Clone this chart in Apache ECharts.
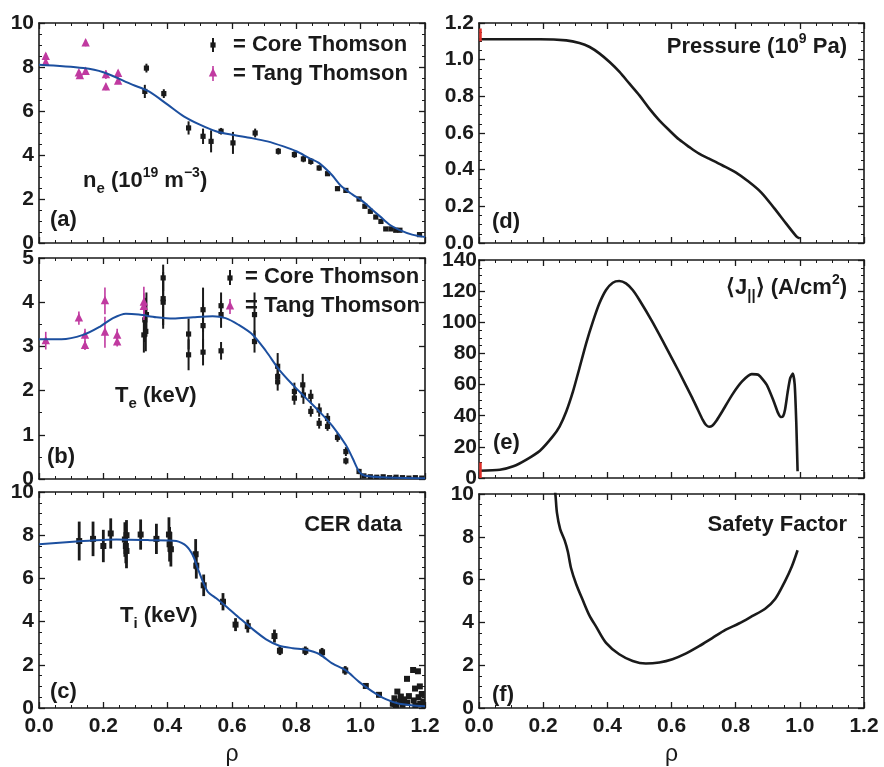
<!DOCTYPE html>
<html>
<head>
<meta charset="utf-8">
<script src="https://cdn.jsdelivr.net/npm/echarts@6/dist/echarts.min.js"></script>
<style>
html,body{margin:0;padding:0;background:#fff;}
#chart{width:884px;height:767px;}
</style>
</head>
<body>
<div id="chart"></div>
<script>
// ---------------- DATA ----------------
const xTicks = [0, 0.2, 0.4, 0.6, 0.8, 1.0, 1.2];

// (a) electron density
const neFit = [[0,8.1],[0.138,7.95],[0.2,7.76],[0.29,7.2],[0.34,6.9],[0.4,6.29],[0.45,5.76],[0.5,5.38],[0.55,5.08],[0.6,4.92],[0.66,4.77],[0.71,4.62],[0.76,4.39],[0.8,4.17],[0.84,3.86],[0.87,3.64],[0.91,3.1],[0.94,2.58],[0.975,2.2],[1.0,1.97],[1.03,1.59],[1.06,1.21],[1.09,0.83],[1.12,0.6],[1.16,0.38],[1.2,0.27]];
const neCore = [[0.329,6.89,0.3],[0.334,7.95,0.2],[0.388,6.79,0.2],[0.465,5.23,0.3],[0.51,4.85,0.35],[0.535,4.62,0.5],[0.566,5.08,0.15],[0.603,4.55,0.5],[0.672,5.0,0.2],[0.744,4.17,0.15],[0.794,4.02,0.15],[0.822,3.82,0.15],[0.845,3.71,0.15],[0.871,3.41,0.12],[0.897,3.15,0.1],[0.928,2.47,0.1],[0.954,2.39,0.1],[0.995,2.0,0.1],[1.013,1.67,0.1],[1.03,1.44,0.1],[1.047,1.18,0.08],[1.063,0.98,0.08],[1.078,0.64,0.06],[1.094,0.64,0.06],[1.109,0.58,0.05],[1.122,0.58,0.05],[1.183,0.38,0.1]];
const neTang = [[0.021,8.48,0.15],[0.021,8.21,0.15],[0.124,7.73,0.1],[0.127,7.6,0.1],[0.145,9.09,0.15],[0.145,7.8,0.1],[0.208,7.65,0.2],[0.208,7.09,0.15],[0.246,7.7,0.15],[0.246,7.35,0.1]];

// (b) electron temperature
const teFit = [[0,3.16],[0.07,3.16],[0.137,3.26],[0.19,3.45],[0.23,3.64],[0.27,3.74],[0.31,3.72],[0.365,3.66],[0.417,3.63],[0.48,3.66],[0.54,3.68],[0.58,3.64],[0.62,3.49],[0.665,3.26],[0.706,2.89],[0.747,2.47],[0.789,2.13],[0.83,1.83],[0.871,1.53],[0.913,1.19],[0.954,0.77],[0.975,0.47],[0.995,0.17],[1.011,0.08],[1.07,0.04],[1.2,0.015]];
const teCore = [[0.326,3.26,0.4],[0.329,3.6,0.5],[0.332,3.34,0.45],[0.334,3.72,0.5],[0.386,4.55,0.3],[0.386,4.0,0.6],[0.386,4.08,0.6],[0.465,3.28,0.35],[0.465,2.81,0.35],[0.51,3.83,0.5],[0.51,3.47,0.5],[0.51,2.87,0.3],[0.566,3.92,0.3],[0.566,3.72,0.3],[0.566,2.9,0.2],[0.67,3.72,0.5],[0.67,3.11,0.25],[0.742,2.55,0.3],[0.742,2.32,0.2],[0.742,2.2,0.2],[0.794,1.98,0.2],[0.794,1.83,0.15],[0.82,2.13,0.25],[0.822,1.9,0.2],[0.845,1.87,0.15],[0.845,1.53,0.12],[0.871,1.56,0.15],[0.871,1.26,0.12],[0.897,1.37,0.12],[0.897,1.19,0.1],[0.928,0.94,0.1],[0.954,0.62,0.1],[0.954,0.41,0.08],[0.995,0.17,0.06],[1.01,0.07,0.02],[1.03,0.05,0.02],[1.05,0.04,0.02],[1.07,0.05,0.02],[1.09,0.03,0.02],[1.11,0.04,0.02],[1.13,0.03,0.02],[1.15,0.02,0.02],[1.17,0.03,0.02],[1.19,0.02,0.02]];
const teTang = [[0.021,3.13,0.2],[0.124,3.64,0.15],[0.143,3.25,0.15],[0.143,3.02,0.1],[0.205,4.03,0.3],[0.205,3.32,0.35],[0.243,3.25,0.15],[0.243,3.1,0.1],[0.326,4.0,0.35],[0.326,3.9,0.3]];

// (c) ion temperature
const tiFit = [[0,7.58],[0.137,7.73],[0.24,7.8],[0.344,7.77],[0.427,7.73],[0.458,7.5],[0.479,7.05],[0.494,6.44],[0.51,5.83],[0.525,5.38],[0.551,5.08],[0.582,4.7],[0.623,4.17],[0.665,3.64],[0.706,3.18],[0.747,2.88],[0.789,2.77],[0.83,2.7],[0.871,2.5],[0.913,2.05],[0.954,1.74],[0.995,1.21],[1.037,0.76],[1.078,0.41],[1.12,0.2],[1.2,0.08]];
const tiCER = [[0.125,7.73,0.9],[0.168,7.83,0.8],[0.2,7.5,0.75],[0.223,8.08,0.7],[0.267,7.8,0.8],[0.27,7.5,0.8],[0.272,7.27,0.8],[0.272,8.0,0.7],[0.316,8.03,0.7],[0.365,7.83,0.7],[0.404,8.03,0.8],[0.406,7.58,0.8],[0.41,7.35,0.8],[0.487,7.12,0.7],[0.489,6.59,0.6],[0.512,5.68,0.5],[0.572,4.92,0.4],[0.611,3.86,0.3],[0.649,3.79,0.3],[0.732,3.33,0.3],[0.749,2.65,0.2],[0.828,2.65,0.2],[0.88,2.58,0.2],[0.952,1.74,0.2],[1.016,1.02,0.1],[1.057,0.61,0.1],[1.1,0.2,0.15],[1.105,0.45,0.1],[1.11,0.1,0.1],[1.114,0.76,0.08],[1.12,0.3,0.1],[1.125,0.53,0.08],[1.13,0.15,0.1],[1.135,0.4,0.1],[1.144,1.35,0.08],[1.145,0.25,0.1],[1.15,0.55,0.1],[1.163,1.76,0.06],[1.169,0.9,0.08],[1.165,0.35,0.1],[1.17,0.1,0.1],[1.178,1.7,0.06],[1.18,0.5,0.1],[1.184,1.0,0.08],[1.185,0.2,0.1],[1.19,0.65,0.1],[1.195,0.3,0.1],[1.198,0.05,0.05]];

// (d) pressure
const pressure = [[0,1.111],[0.19,1.111],[0.272,1.105],[0.313,1.091],[0.345,1.069],[0.376,1.033],[0.407,0.987],[0.438,0.933],[0.469,0.869],[0.5,0.805],[0.531,0.733],[0.562,0.669],[0.593,0.615],[0.624,0.564],[0.655,0.524],[0.686,0.487],[0.717,0.46],[0.758,0.424],[0.8,0.385],[0.84,0.335],[0.88,0.275],[0.92,0.19],[0.96,0.1],[0.99,0.035],[1.0,0.025]];
const pressureErr = [[0,1.135,0.035]];

// (e) parallel current density
const current = [[0,4.7],[0.065,5.3],[0.107,7.5],[0.148,11.8],[0.19,17.5],[0.23,26.7],[0.251,33],[0.272,42.7],[0.293,55.6],[0.313,70.5],[0.334,86.5],[0.355,100.4],[0.375,112],[0.396,120.7],[0.417,125.4],[0.437,126.5],[0.458,125],[0.479,120.7],[0.5,114.3],[0.54,100.4],[0.582,84.4],[0.623,68.4],[0.665,51.3],[0.683,43.5],[0.697,37.5],[0.707,34.2],[0.717,32.9],[0.727,33.6],[0.74,36.8],[0.758,42.7],[0.789,53.4],[0.82,62],[0.85,66.7],[0.871,66.2],[0.897,59.8],[0.92,48.5],[0.932,41.8],[0.941,39.2],[0.948,39.8],[0.954,44],[0.962,55],[0.97,64.1],[0.978,67],[0.984,60],[0.989,35],[0.993,4.3]];
const currentErr = [[0,5,5]];

// (f) safety factor
const safety = [[0.232,10.6],[0.238,10],[0.243,9.12],[0.253,8.36],[0.267,7.83],[0.277,7.3],[0.287,6.53],[0.303,5.78],[0.324,5.02],[0.344,4.33],[0.365,3.8],[0.396,3.04],[0.437,2.51],[0.479,2.2],[0.52,2.08],[0.562,2.13],[0.603,2.28],[0.644,2.54],[0.686,2.89],[0.727,3.27],[0.768,3.65],[0.81,3.95],[0.851,4.29],[0.892,4.64],[0.923,5.09],[0.954,5.93],[0.975,6.61],[0.993,7.37]];

// ---------------- STYLE / LAYOUT ----------------
const FONT = '"Liberation Sans", Arial, Helvetica, sans-serif';
const INK = '#1a1a1a';
const BLUE = '#1c4f9f';
const MAG = '#c03aa0';
const RED = '#e0302a';

const grids = [
  {left:39, top:23, width:386, height:220},
  {left:39, top:258, width:386, height:221},
  {left:39, top:492, width:386, height:220},
  {left:479, top:23, width:385, height:220},
  {left:479, top:260, width:385, height:218},
  {left:479, top:494, width:385, height:219}
];
const yCfg = [
  {max:10, interval:2, minor:4, dec:0, margin:5},
  {max:5, interval:1, minor:2, dec:0, margin:5},
  {max:10, interval:2, minor:4, dec:0, margin:5},
  {max:1.2, interval:0.2, minor:4, dec:1, margin:5},
  {max:140, interval:20, minor:4, dec:0, margin:2},
  {max:10, interval:2, minor:4, dec:0, margin:5}
];
const bottomRow = [2, 5];

const lineStyleAxis = {color: INK, width: 1.6};
function tickCfg(){ return {show:true, inside:true, length:6, lineStyle:{color:INK, width:1.3}}; }
function minorCfg(n){ return {show:true, splitNumber:n, length:3, lineStyle:{color:INK, width:1}}; }

const xAxes = [], yAxes = [];
grids.forEach((g, i) => {
  const showLab = bottomRow.includes(i);
  xAxes.push({
    type:'value', gridIndex:i, position:'bottom', min:0, max:1.2, interval:0.2,
    axisLine:{show:true, onZero:false, lineStyle:lineStyleAxis},
    axisTick:tickCfg(), minorTick:minorCfg(4), splitLine:{show:false},
    axisLabel:{show:showLab, margin:8, color:INK, fontFamily:FONT, fontWeight:'bold', fontSize:21,
      formatter:v => v.toFixed(1)},
    name: showLab ? 'ρ' : '', nameLocation:'middle', nameGap:35,
    nameTextStyle:{color:INK, fontFamily:FONT, fontSize:23}
  });
  xAxes.push({
    type:'value', gridIndex:i, position:'top', min:0, max:1.2, interval:0.2,
    axisLine:{show:true, onZero:false, lineStyle:lineStyleAxis},
    axisTick:tickCfg(), minorTick:minorCfg(4), splitLine:{show:false}, axisLabel:{show:false}
  });
  const c = yCfg[i];
  yAxes.push({
    type:'value', gridIndex:i, position:'left', min:0, max:c.max, interval:c.interval,
    axisLine:{show:true, onZero:false, lineStyle:lineStyleAxis},
    axisTick:tickCfg(), minorTick:minorCfg(c.minor), splitLine:{show:false},
    axisLabel:{show:true, margin:c.margin, color:INK, fontFamily:FONT, fontWeight:'bold', fontSize:21,
      formatter:v => v.toFixed(c.dec)}
  });
  yAxes.push({
    type:'value', gridIndex:i, position:'right', min:0, max:c.max, interval:c.interval,
    axisLine:{show:true, onZero:false, lineStyle:lineStyleAxis},
    axisTick:tickCfg(), minorTick:minorCfg(c.minor), splitLine:{show:false}, axisLabel:{show:false}
  });
});

function errSeries(name, data, gi, color, shape, lw, opts){
  opts = opts || {};
  const ms = opts.size || 5.2;
  return {
    name, type:'custom', xAxisIndex:2*gi, yAxisIndex:2*gi, clip: opts.clip !== false, z: opts.z || 2,
    data: data.map(d => [d[0], d[1], d[1]-d[2], d[1]+d[2]]),
    renderItem(params, api){
      const p = api.coord([api.value(0), api.value(1)]);
      const lo = api.coord([api.value(0), api.value(2)]);
      const hi = api.coord([api.value(0), api.value(3)]);
      const x = p[0] + (opts.dx || 0);
      const ch = [{type:'line', shape:{x1:x, y1:lo[1], x2:x, y2:hi[1]}, style:{stroke:color, lineWidth:lw || 2}}];
      if (shape === 'tri') {
        ch.push({type:'polygon', shape:{points:[[x, p[1]-5],[x-4.2, p[1]+3.5],[x+4.2, p[1]+3.5]]}, style:{fill:color}});
      } else if (shape === 'sq') {
        ch.push({type:'rect', shape:{x:x-ms/2, y:p[1]-ms/2, width:ms, height:ms}, style:{fill:color}});
      }
      return {type:'group', children:ch};
    }
  };
}
function lineSeries(name, data, gi, color, width, smooth){
  return {name, type:'line', xAxisIndex:2*gi, yAxisIndex:2*gi, data, showSymbol:false, symbol:'none',
    smooth: smooth, clip:true, lineStyle:{color, width}, z:3};
}

const series = [
  errSeries('Tang Thomson', neTang, 0, MAG, 'tri', 1.6),
  errSeries('Core Thomson', neCore, 0, INK, 'sq'),
  lineSeries('ne fit', neFit, 0, BLUE, 2, 0.3),
  errSeries('Core Thomson', teCore, 1, INK, 'sq'),
  errSeries('Tang Thomson', teTang, 1, MAG, 'tri', 1.6),
  lineSeries('Te fit', teFit, 1, BLUE, 2, 0.3),
  errSeries('CER data', tiCER, 2, INK, 'sq', 2.8, {size:6}),
  lineSeries('Ti fit', tiFit, 2, BLUE, 2, 0.25),
  lineSeries('Pressure', pressure, 3, INK, 2.6, 0.3),
  errSeries('Pressure error', pressureErr, 3, RED, 'none', 2.5, {clip:false, z:20, dx:1.5}),
  lineSeries('J parallel', current, 4, INK, 2.6, 0.2),
  errSeries('J error', currentErr, 4, RED, 'none', 2.5, {clip:false, z:20, dx:1.5}),
  lineSeries('Safety factor', safety, 5, INK, 2.6, 0.3)
];

// ---------------- ANNOTATIONS ----------------
const B22 = 'bold 22px ' + FONT;
const rich = {
  m:{font:B22, fill:INK, color:INK, lineHeight:30},
  sup:{font:'bold 14px ' + FONT, color:INK, lineHeight:14, verticalAlign:'top'},
  sub:{font:'bold 15px ' + FONT, color:INK, lineHeight:15, verticalAlign:'bottom'}
};
function txt(x, y, text, align){
  return {type:'text', x, y, z:10, style:{text, rich, font:B22, fill:INK, textAlign:align || 'left', textVerticalAlign:'middle'}};
}
const graphics = [
  txt(233, 45, '{m|= Core Thomson}'),
  txt(233, 74, '{m|= Tang Thomson}'),
  txt(83, 181, '{m|n}{sub|e}{m| (10}{sup|19}{m| m}{sup|−3}{m|)}'),
  txt(50, 220, '{m|(a)}'),
  txt(245, 277, '{m|= Core Thomson}'),
  txt(245, 306, '{m|= Tang Thomson}'),
  txt(115, 396, '{m|T}{sub|e}{m| (keV)}'),
  txt(47, 457, '{m|(b)}'),
  txt(402, 525, '{m|CER data}', 'right'),
  txt(120, 616, '{m|T}{sub|i}{m| (keV)}'),
  txt(50, 692, '{m|(c)}'),
  txt(847, 47, '{m|Pressure (10}{sup|9}{m| Pa)}', 'right'),
  txt(492, 222, '{m|(d)}'),
  txt(847, 288, '{m|⟨J}{sub|||}{m|⟩ (A/cm}{sup|2}{m|)}', 'right'),
  txt(493, 443, '{m|(e)}'),
  txt(847, 525, '{m|Safety Factor}', 'right'),
  txt(492, 695, '{m|(f)}'),
  // legend keys
  {type:'line', shape:{x1:213, y1:38, x2:213, y2:52}, style:{stroke:INK, lineWidth:2}},
  {type:'rect', shape:{x:210.4, y:42.4, width:5.2, height:5.2}, style:{fill:INK}},
  {type:'line', shape:{x1:213, y1:66, x2:213, y2:81}, style:{stroke:MAG, lineWidth:1.6}},
  {type:'polygon', shape:{points:[[213,68],[208.8,76.5],[217.2,76.5]]}, style:{fill:MAG}},
  {type:'line', shape:{x1:230, y1:270, x2:230, y2:285}, style:{stroke:INK, lineWidth:2}},
  {type:'rect', shape:{x:227.4, y:275.4, width:5.2, height:5.2}, style:{fill:INK}},
  {type:'line', shape:{x1:230, y1:299, x2:230, y2:314}, style:{stroke:MAG, lineWidth:1.6}},
  {type:'polygon', shape:{points:[[230,301],[225.8,309.5],[234.2,309.5]]}, style:{fill:MAG}}
];

const chart = echarts.init(document.getElementById('chart'), null, {renderer:'canvas'});
chart.setOption({
  backgroundColor:'#ffffff',
  animation:false,
  grid: grids.map(g => Object.assign({containLabel:false}, g)),
  xAxis: xAxes,
  yAxis: yAxes,
  series,
  graphic: graphics
});
</script>
</body>
</html>
